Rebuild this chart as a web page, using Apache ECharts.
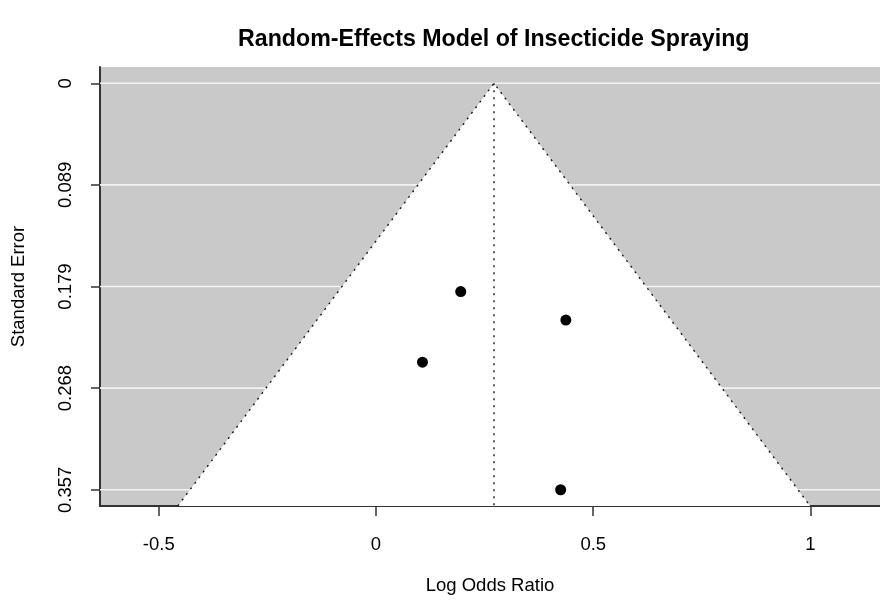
<!DOCTYPE html>
<html>
<head>
<meta charset="utf-8">
<script src="https://cdn.jsdelivr.net/npm/echarts@6/dist/echarts.min.js"></script>
<style>
  html, body { margin: 0; padding: 0; background: #fff; }
  #chart { width: 880px; height: 600px; }
</style>
</head>
<body>
<div id="chart"></div>
<script>
// Study-level log odds ratios and their standard errors
const studyLogOR = [0.195, 0.437, 0.107, 0.425];
const studySE = [0.183, 0.208, 0.245, 0.357];

// Pooled random-effects estimate (funnel centre)
const pooledLogOR = 0.2716;

// Axis ticks
const seTicks = [0, 0.08925, 0.1785, 0.26775, 0.357];
const seTickLabels = ['0', '0.089', '0.179', '0.268', '0.357'];
const lorTicks = [-0.5, 0, 0.5, 1];
const lorTickLabels = ['-0.5', '0', '0.5', '1'];

// Axis ranges: SE from 0 to its maximum, padded 4% each side
const seMax = Math.max(...studySE);
const yMin = -0.04 * seMax;
const yMax = seMax + 0.04 * seMax;

// Log odds ratio range: pseudo-confidence limits at seMax, padded 10% then 4%
let xLo = Math.min(pooledLogOR - 1.96 * seMax, Math.min(...studyLogOR));
let xHi = Math.max(pooledLogOR + 1.96 * seMax, Math.max(...studyLogOR));
let r = xHi - xLo;
xLo -= 0.10 * r; xHi += 0.10 * r;
r = xHi - xLo;
xLo -= 0.04 * r; xHi += 0.04 * r;
// the plot region runs slightly past the right edge of the page; show the visible part
const PLOT_W_FULL = 788, PLOT_W_VISIBLE = 780;
const xHiVisible = xLo + (xHi - xLo) * PLOT_W_VISIBLE / PLOT_W_FULL;

const FONT = 'Liberation Sans, Arial, Helvetica, sans-serif';
const AXIS_COLOR = '#333';

const chart = echarts.init(document.getElementById('chart'), null, { renderer: 'canvas' });

chart.setOption({
  animation: false,
  backgroundColor: '#fff',
  title: {
    text: 'Random-Effects Model of Insecticide Spraying',
    left: 233,
    top: 23,
    textStyle: { fontFamily: FONT, fontSize: 23.2, fontWeight: 'bold', color: '#000' }
  },
  grid: {
    left: 100, top: 67, right: 0, bottom: 92,
    show: true, backgroundColor: '#c9c9c9', borderWidth: 0
  },
  xAxis: {
    type: 'value',
    min: xLo, max: xHiVisible,
    name: 'Log Odds Ratio',
    nameLocation: 'middle',
    nameGap: 70,
    nameTextStyle: { fontFamily: FONT, fontSize: 18.5, color: '#000' },
    axisLine: { show: true, onZero: false, lineStyle: { color: AXIS_COLOR, width: 2 } },
    axisTick: { show: true, length: 10, customValues: lorTicks, lineStyle: { color: AXIS_COLOR, width: 1.5 } },
    axisLabel: {
      customValues: lorTicks,
      margin: 29,
      fontFamily: FONT, fontSize: 18.5, color: '#000',
      formatter: v => lorTickLabels[lorTicks.indexOf(v)] ?? String(v)
    },
    splitLine: { show: false }
  },
  yAxis: {
    type: 'value',
    inverse: true,
    min: yMin, max: yMax,
    name: 'Standard Error',
    nameLocation: 'middle',
    nameRotate: 90,
    nameGap: 72,
    nameTextStyle: { fontFamily: FONT, fontSize: 18.5, color: '#000' },
    axisLine: { show: true, onZero: false, lineStyle: { color: AXIS_COLOR, width: 2 } },
    axisTick: { show: true, length: 9, customValues: seTicks, lineStyle: { color: AXIS_COLOR, width: 1.5 } },
    axisLabel: {
      customValues: seTicks,
      rotate: 90,
      margin: 25,
      fontFamily: FONT, fontSize: 18.5, color: '#000',
      formatter: v => {
        const i = seTicks.findIndex(t => Math.abs(t - v) < 1e-9);
        return i >= 0 ? seTickLabels[i] : '';
      }
    },
    splitLine: { show: false }
  },
  series: [
    {
      // white reference lines at each SE tick, then the pseudo 95% confidence
      // funnel and the pooled estimate line on top of them
      type: 'custom',
      z: 2,
      clip: true,
      silent: true,
      data: [[pooledLogOR, 0]],
      renderItem: (params, api) => {
        const apex = api.coord([pooledLogOR, 0]);
        const bl = api.coord([pooledLogOR - 1.96 * yMax, yMax]);
        const br = api.coord([pooledLogOR + 1.96 * yMax, yMax]);
        const base = api.coord([pooledLogOR, yMax]);
        const left = api.coord([xLo, 0])[0];
        const right = api.coord([xHiVisible, 0])[0];
        const gridLines = seTicks.map(v => {
          const y = api.coord([xLo, v])[1];
          return {
            type: 'line',
            shape: { x1: left, y1: y, x2: right, y2: y },
            style: { stroke: '#f2f2f2', lineWidth: 1.6 }
          };
        });
        const dotted = { stroke: '#1a1a1a', lineWidth: 1.4, lineDash: [2, 5], fill: null };
        return {
          type: 'group',
          children: gridLines.concat([
            { type: 'polygon', shape: { points: [apex, bl, br] }, style: { fill: '#fff', stroke: null } },
            { type: 'polyline', shape: { points: [bl, apex, br] }, style: dotted },
            { type: 'line', shape: { x1: apex[0], y1: apex[1], x2: base[0], y2: base[1] }, style: dotted }
          ])
        };
      }
    },
    {
      type: 'scatter',
      z: 3,
      symbol: 'circle',
      symbolSize: 11,
      itemStyle: { color: '#000', opacity: 1 },
      data: studyLogOR.map((x, i) => [x, studySE[i]])
    }
  ]
});
</script>
</body>
</html>
